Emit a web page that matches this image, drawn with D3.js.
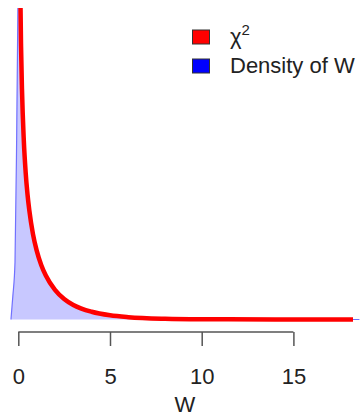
<!DOCTYPE html>
<html>
<head>
<meta charset="utf-8">
<script src="https://cdn.jsdelivr.net/npm/d3@7"></script>
<style>
  body { margin: 0; background: #fff; }
  svg { display: block; font-family: "Liberation Sans", Arial, Helvetica, sans-serif; }
</style>
</head>
<body>
<div id="chart"></div>
<script>
// chi-square curve
const chiW = [0.08, 0.1, 0.15, 0.2, 0.3, 0.4, 0.5, 0.6, 0.8, 1, 1.25, 1.5, 2, 2.5, 3, 4, 5, 6, 8, 10, 14, 18.25];
const chiD = [1.355, 1.2, 0.956, 0.807, 0.627, 0.516, 0.439, 0.382, 0.299, 0.242, 0.191, 0.154, 0.104, 0.072, 0.051, 0.027, 0.0146, 0.0081, 0.0026, 0.0009, 0.0001, 0];

// density estimate of W
const denW = [-0.4, -0.3, -0.18, -0.09, -0.02, 0.05, 0.12, 0.2, 0.3, 0.4, 0.5, 0.6, 0.8, 1, 1.25, 1.5, 2, 2.5, 3, 4, 5, 6, 8, 10, 14, 18.6];
const denD = [0, 0.08, 0.2, 0.63, 1.1, 1.4, 1.05, 0.8, 0.62, 0.51, 0.435, 0.378, 0.297, 0.24, 0.19, 0.153, 0.103, 0.072, 0.051, 0.027, 0.0145, 0.008, 0.0026, 0.0009, 0.0001, 0];

const xTicks = [0, 5, 10, 15];
const legendLabels = ['χ', 'Density of W'];
const legendColors = ['#ff0000', '#0000ff'];

const width = 364, height = 416;
const svg = d3.select('#chart').append('svg')
  .attr('width', width)
  .attr('height', height);

const x = d3.scaleLinear().domain([0, 15]).range([18.3, 293.4]);
const y = d3.scaleLinear().domain([0, 1.09]).range([319.5, 8]);

svg.append('defs').append('clipPath').attr('id', 'plotclip')
  .append('rect').attr('x', 0).attr('y', 8).attr('width', width).attr('height', 332);

const plot = svg.append('g').attr('clip-path', 'url(#plotclip)');

const den = denW.map((w, i) => ({ w: w, d: denD[i] }));
const chi = chiW.map((w, i) => ({ w: w, d: chiD[i] }));

const area = d3.area()
  .x(d => x(d.w))
  .y0(y(0))
  .y1(d => y(d.d))
  .curve(d3.curveMonotoneX);

const line = d3.line()
  .x(d => x(d.w))
  .y(d => y(d.d))
  .curve(d3.curveMonotoneX);

plot.append('path')
  .datum(den)
  .attr('d', area)
  .style('fill', '#c8c8ff')
  .style('stroke', 'none');

plot.append('path')
  .datum(den)
  .attr('d', line)
  .style('fill', 'none')
  .style('stroke', '#7070ff')
  .style('stroke-width', 1.2);

plot.append('path')
  .datum(chi)
  .attr('d', line)
  .style('fill', 'none')
  .style('stroke', '#ff0000')
  .style('stroke-width', 4.5)
  .style('stroke-linecap', 'butt');

/* ---------- x axis ---------- */
const axisG = svg.append('g')
  .attr('transform', 'translate(0,332)')
  .call(d3.axisBottom(x).tickValues(xTicks).tickSize(14).tickSizeOuter(0).tickPadding(22));

axisG.select('.domain').remove();
axisG.append('line')
  .attr('x1', x(0)).attr('x2', x(15))
  .attr('stroke', '#555').attr('stroke-width', 1.5);
axisG.selectAll('.tick line').attr('stroke', '#555').attr('stroke-width', 1.5);
axisG.selectAll('.tick text')
  .attr('fill', '#222')
  .style('font-size', '22px')
  .style('font-family', '"Liberation Sans", Arial, sans-serif');

svg.append('text')
  .attr('x', 185)
  .attr('y', 412)
  .attr('text-anchor', 'middle')
  .style('font-size', '22px')
  .attr('fill', '#222')
  .text('W');

/* ---------- legend ---------- */
const legend = svg.append('g');
const rowY = [30, 59];
legendLabels.forEach((lab, i) => {
  legend.append('rect')
    .attr('x', 192.5).attr('y', rowY[i])
    .attr('width', 17).attr('height', 14)
    .attr('fill', legendColors[i])
    .attr('stroke', '#333').attr('stroke-width', 1);
  const t = legend.append('text')
    .attr('x', 230)
    .attr('y', rowY[i] + 14)
    .attr('fill', '#222')
    .style('font-size', '22px')
    .text(lab);
  if (i === 0) {
    t.append('tspan')
      .attr('dy', -9)
      .style('font-size', '15px')
      .text('2');
  }
});
</script>
</body>
</html>
